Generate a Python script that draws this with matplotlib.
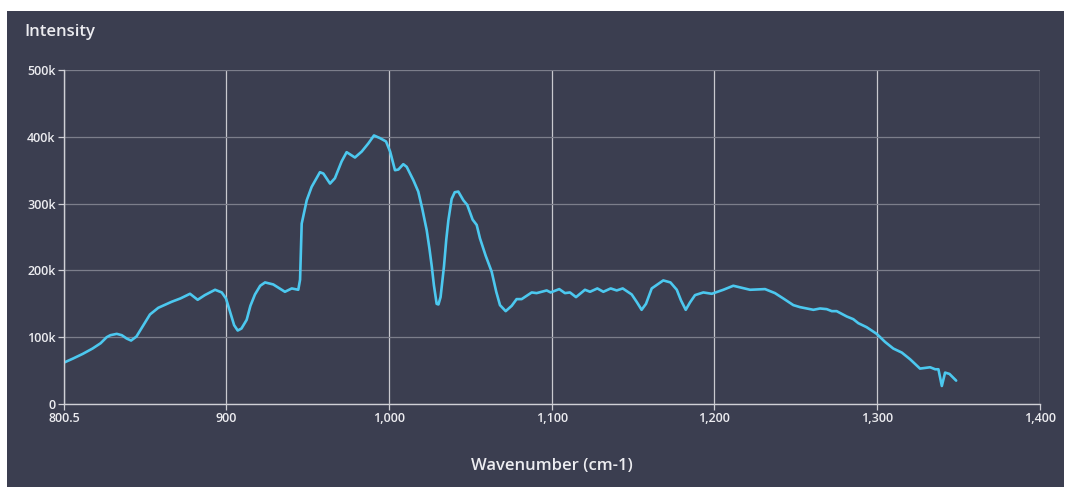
import matplotlib
matplotlib.use("Agg")
import matplotlib.pyplot as plt
from matplotlib.patches import Rectangle
from matplotlib.ticker import FuncFormatter

plt.rcParams['font.family'] = ['Open Sans', 'DejaVu Sans']

wavenumber = [
    800.5, 806, 812, 818, 823, 826.7, 829, 832.9, 836, 839, 841.7, 845, 849,
    853.3, 858.4, 862, 866.6, 872, 877.9, 882.6, 887, 893.3, 897.4, 900, 902.5,
    905, 907.2, 909.5, 912.7, 915, 917.8, 921, 924, 929, 936.2, 940.4, 944.4,
    945.5, 946.5, 949.6, 952.6, 957.7, 959.8, 963.9, 966.9, 971, 974.1, 979.2,
    983.4, 987.4, 990.9, 994.6, 998.3, 1000.8, 1003.8, 1005.9, 1008.9, 1011,
    1015.1, 1018.1, 1020.5, 1023.3, 1025, 1026.4, 1027.7, 1029.4, 1030.5,
    1031.8, 1033.9, 1035.3, 1036.6, 1038.6, 1040.5, 1042.7, 1045.8, 1048.2,
    1051.5, 1054, 1056, 1059.5, 1063.2, 1066, 1068.3, 1071.8, 1075.5, 1078.5,
    1081.6, 1087.8, 1090.8, 1097, 1099.4, 1104.7, 1108.2, 1111.3, 1115, 1120.5,
    1123.6, 1128.1, 1131.8, 1136.3, 1140, 1143.7, 1149.2, 1152.5, 1155.3,
    1158, 1161.5, 1168.6, 1173, 1176.9, 1179.5, 1182.4, 1185, 1188.1, 1193.2,
    1198.4, 1205.5, 1211.6, 1221.9, 1231.1, 1237.2, 1242.3, 1248.5, 1252.6,
    1260.8, 1264.9, 1269, 1272.1, 1275.1, 1281.3, 1285.3, 1288.4, 1293.5,
    1299.7, 1304.8, 1309.9, 1315.1, 1320.2, 1326.3, 1332.5, 1335.6, 1337.6,
    1339.7, 1341.7, 1344.4, 1348.5,
]
intensity_k = [
    62, 68, 75, 83, 91, 100, 103, 105, 103, 98, 95, 101, 117,
    134, 144, 148, 153, 158, 165, 156, 163, 171, 167, 158, 138,
    118, 110, 113, 126, 147, 164, 177, 182, 179, 168, 173, 171,
    186, 270, 305, 325, 347, 345, 330, 338, 363, 377, 369,
    378, 390, 402, 398, 393, 378, 350, 351, 359, 355,
    335, 318, 293, 260, 232, 206, 178, 150, 149,
    160, 206, 246, 275, 307, 317, 318, 305, 298,
    276, 268, 248, 222, 198, 168, 148, 139, 147, 157,
    157, 167, 166, 170, 167, 172, 166, 167, 160, 171,
    168, 173, 168, 173, 170, 173, 164, 152, 141,
    150, 173, 185, 182, 171, 155, 141, 152, 163, 167,
    165, 171, 177, 171, 172, 166, 158, 148, 145,
    141, 143, 142, 139, 139, 131, 127, 121, 115,
    105, 93, 83, 77, 67, 53, 55, 52, 52,
    27, 47, 45, 35,
]
intensity = [v * 1000 for v in intensity_k]

x_ticks = [800.5, 900, 1000, 1100, 1200, 1300, 1400]
y_ticks = [0, 100000, 200000, 300000, 400000, 500000]

bg = '#3b3e50'
fg = '#ececf0'

fig = plt.figure(figsize=(10.65, 4.87), dpi=100, facecolor='white')
# dark card behind everything
panel = fig.add_axes([7 / 1065, 0, 1057 / 1065, 476 / 487], zorder=-10)
panel.set_axis_off()
panel.add_patch(Rectangle((0, 0), 1, 1, transform=panel.transAxes,
                          facecolor=bg, edgecolor='none'))

ax = fig.add_axes([64 / 1065, 1 - 404 / 487, 976 / 1065, 334 / 487])
ax.set_facecolor(bg)
ax.plot(wavenumber, intensity, color='#4cc8ef', lw=1.9,
        solid_joinstyle='round', solid_capstyle='round')

ax.set_xlim(800.5, 1400)
ax.set_ylim(0, 500000)
ax.set_xticks(x_ticks)
ax.set_yticks(y_ticks)
ax.xaxis.set_major_formatter(FuncFormatter(lambda v, p: '800.5' if v < 801 else f'{v:,.0f}'))
ax.yaxis.set_major_formatter(FuncFormatter(lambda v, p: '0' if v == 0 else f'{v / 1000:.0f}k'))

ax.grid(axis='y', color='#7c7e8b', lw=0.9)
ax.grid(axis='x', color='#c9c9cf', lw=0.9)
ax.set_axisbelow(True)

for side in ['top', 'right']:
    ax.spines[side].set_visible(False)
for side in ['left', 'bottom']:
    ax.spines[side].set_color('#d0d0d6')
    ax.spines[side].set_linewidth(1.0)

ax.tick_params(colors='#d0d0d6', labelcolor=fg, labelsize=9, length=4, width=0.9, pad=2)
for lbl in ax.get_xticklabels() + ax.get_yticklabels():
    lbl.set_fontweight('semibold')

fig.text(24 / 1065, 1 - 32 / 487, 'Intensity', color=fg, fontsize=12,
         fontweight='semibold', ha='left', va='center')
fig.text(552 / 1065, 1 - 466 / 487, 'Wavenumber (cm-1)', color=fg, fontsize=12,
         fontweight='semibold', ha='center', va='center')

fig.savefig('out.png', dpi=100, facecolor='white')
